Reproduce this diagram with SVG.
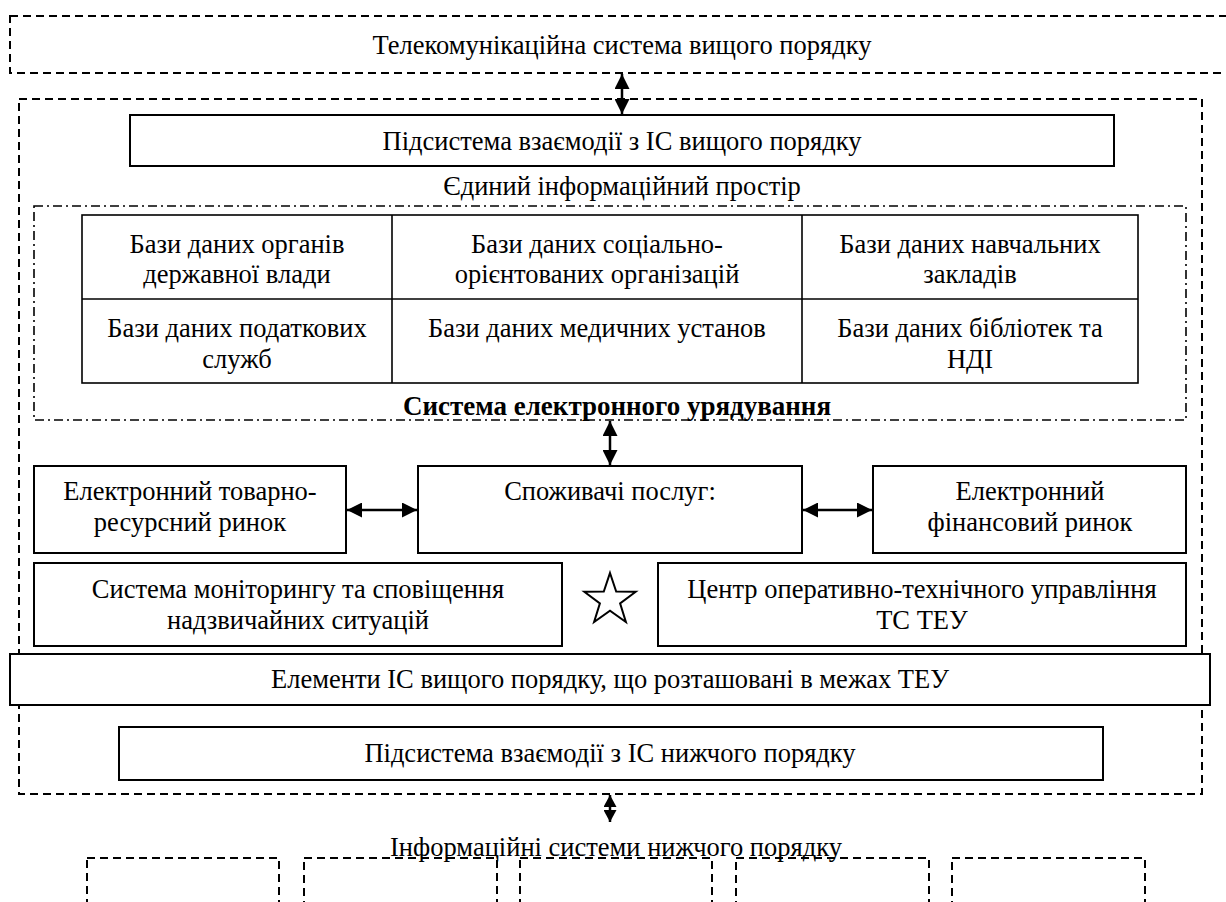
<svg xmlns="http://www.w3.org/2000/svg" width="1226" height="902" viewBox="0 0 1226 902">
<style>
text{font-family:"Liberation Serif","Times New Roman",serif;font-size:26.5px;fill:#000;text-anchor:middle}
.b{font-weight:bold;font-size:27px}
.box{fill:#fff;stroke:#000;stroke-width:2}
.dash{fill:none;stroke:#000;stroke-width:2;stroke-dasharray:8 5}
.dd{fill:none;stroke:#000;stroke-width:1.6;stroke-dasharray:9 4 2 4}
.ln{stroke:#000;stroke-width:2.5;fill:none}
.cell{stroke:#000;stroke-width:1.6;fill:none}
</style>
<defs>
<marker id="ah" viewBox="0 0 15 15" refX="15" refY="7.5" markerWidth="15" markerHeight="15" orient="auto-start-reverse" markerUnits="userSpaceOnUse">
<path d="M0,0 L15,7.5 L0,15 z" fill="#000"/>
</marker>
<marker id="ahs" viewBox="0 0 12 13" refX="12" refY="6.5" markerWidth="12" markerHeight="13" orient="auto-start-reverse" markerUnits="userSpaceOnUse">
<path d="M0,0 L12,6.5 L0,13 z" fill="#000"/>
</marker>
</defs>
<rect width="1226" height="902" fill="#fff"/>

<g id="top-system">
<rect class="dash" x="10" y="16" width="1240" height="57"/>
<text x="622" y="54">Телекомунікаційна система вищого порядку</text>
</g>

<g id="teu-boundary">
<rect class="dash" x="19" y="99" width="1183" height="695"/>
</g>

<g id="upper-interaction">
<rect class="box" x="130" y="115" width="984" height="51"/>
<text x="622" y="150">Підсистема взаємодії з ІС вищого порядку</text>
</g>

<g id="info-space">
<text x="622" y="195">Єдиний інформаційний простір</text>
<rect class="dd" x="34" y="206" width="1152" height="214"/>
<text class="b" x="617" y="415">Система електронного урядування</text>
</g>

<g id="databases">
<rect class="cell" x="82" y="215" width="1056" height="168"/>
<line class="cell" x1="82" y1="299" x2="1138" y2="299"/>
<line class="cell" x1="392" y1="215" x2="392" y2="383"/>
<line class="cell" x1="802" y1="215" x2="802" y2="383"/>
<text x="237" y="253">Бази даних органів</text>
<text x="237" y="283">державної влади</text>
<text x="597" y="253">Бази даних соціально-</text>
<text x="597" y="283">орієнтованих організацій</text>
<text x="970" y="253">Бази даних навчальних</text>
<text x="970" y="283">закладів</text>
<text x="237" y="337">Бази даних податкових</text>
<text x="237" y="368">служб</text>
<text x="597" y="337">Бази даних медичних установ</text>
<text x="970" y="337">Бази даних бібліотек та</text>
<text x="970" y="368">НДІ</text>
</g>

<g id="commodity-market">
<rect class="box" x="34" y="466" width="312" height="87"/>
<text x="190" y="500">Електронний товарно-</text>
<text x="190" y="531">ресурсний ринок</text>
</g>

<g id="consumers">
<rect class="box" x="418" y="466" width="384" height="87"/>
<text x="610" y="500">Споживачі послуг:</text>
</g>

<g id="financial-market">
<rect class="box" x="873" y="466" width="313" height="87"/>
<text x="1030" y="500">Електронний</text>
<text x="1030" y="531">фінансовий ринок</text>
</g>

<g id="monitoring">
<rect class="box" x="34" y="563" width="528" height="83"/>
<text x="298" y="598">Система моніторингу та сповіщення</text>
<text x="298" y="629">надзвичайних ситуацій</text>
</g>

<g id="star">
<polygon points="610,573 616.2,591.5 635.7,591.7 620.1,603.4 625.9,622.0 610,610.7 594.1,622.0 599.9,603.4 584.3,591.7 603.8,591.5" fill="#fff" stroke="#000" stroke-width="2"/>
</g>

<g id="control-center">
<rect class="box" x="658" y="563" width="528" height="83"/>
<text x="922" y="598">Центр оперативно-технічного управління</text>
<text x="922" y="629">ТС ТЕУ</text>
</g>

<g id="upper-elements">
<rect class="box" x="10" y="654" width="1200" height="51"/>
<text x="610" y="688">Елементи ІС вищого порядку, що розташовані в межах ТЕУ</text>
</g>

<g id="lower-interaction">
<rect class="box" x="119" y="727" width="984" height="53"/>
<text x="610" y="762">Підсистема взаємодії з ІС нижчого порядку</text>
</g>

<g id="lower-systems">
<text x="616" y="856">Інформаційні системи нижчого порядку</text>
<rect class="dash" x="87" y="858" width="192" height="60"/>
<rect class="dash" x="304" y="858" width="193" height="60"/>
<rect class="dash" x="520" y="858" width="192" height="60"/>
<rect class="dash" x="736" y="858" width="193" height="60"/>
<rect class="dash" x="952" y="858" width="193" height="60"/>
</g>

<g id="connectors">
<line class="ln" x1="622" y1="74" x2="622" y2="114" marker-start="url(#ah)" marker-end="url(#ah)"/>
<line class="ln" x1="610" y1="421" x2="610" y2="465" marker-start="url(#ah)" marker-end="url(#ah)"/>
<line class="ln" x1="347" y1="510" x2="417" y2="510" marker-start="url(#ah)" marker-end="url(#ah)"/>
<line class="ln" x1="803" y1="510" x2="872" y2="510" marker-start="url(#ah)" marker-end="url(#ah)"/>
<line class="ln" x1="610" y1="795" x2="610" y2="822" marker-start="url(#ahs)" marker-end="url(#ahs)"/>
</g>
</svg>
